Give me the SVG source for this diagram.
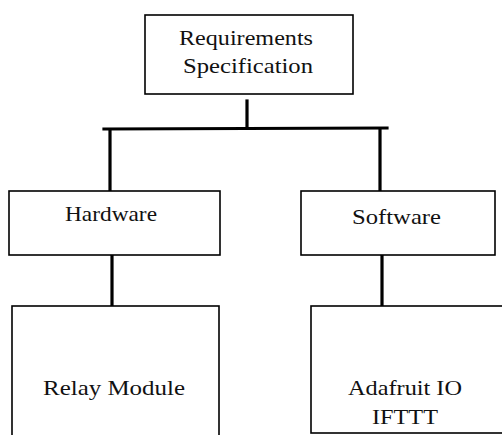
<svg xmlns="http://www.w3.org/2000/svg" width="502" height="435" viewBox="0 0 502 435">
<style>
.box{fill:#fff;stroke:#000;stroke-width:1.6}
.lbl{font-family:"Liberation Serif","Times New Roman",serif;font-size:22px;fill:#111;text-anchor:middle}
.con{stroke:#000;stroke-width:3.2;fill:none;stroke-linecap:square}
</style>
<rect width="502" height="435" fill="#fff"/>
<g id="connectors">
<line class="con" x1="247" y1="101" x2="247" y2="128"/>
<line class="con" x1="104" y1="129" x2="387" y2="128"/>
<line class="con" x1="110" y1="130" x2="110" y2="190"/>
<line class="con" x1="380" y1="130" x2="380" y2="190"/>
<line class="con" x1="112" y1="256" x2="112" y2="305"/>
<line class="con" x1="382" y1="256" x2="382" y2="305"/>
</g>
<g id="requirements">
<rect class="box" x="145" y="15" width="208" height="79"/>
<text class="lbl" x="246" y="45" textLength="134" lengthAdjust="spacingAndGlyphs">Requirements</text>
<text class="lbl" x="248" y="73" textLength="130" lengthAdjust="spacingAndGlyphs">Specification</text>
</g>
<g id="hardware">
<rect class="box" x="9" y="191" width="211" height="64"/>
<text class="lbl" x="111" y="221" textLength="92" lengthAdjust="spacingAndGlyphs">Hardware</text>
</g>
<g id="software">
<rect class="box" x="301" y="191" width="194" height="64"/>
<text class="lbl" x="396.5" y="224" textLength="89" lengthAdjust="spacingAndGlyphs">Software</text>
</g>
<g id="relay">
<rect class="box" x="12" y="306" width="207" height="140"/>
<text class="lbl" x="114" y="395" textLength="142" lengthAdjust="spacingAndGlyphs">Relay Module</text>
</g>
<g id="adafruit">
<rect class="box" x="311" y="306" width="200" height="127"/>
<text class="lbl" x="405" y="395" textLength="114" lengthAdjust="spacingAndGlyphs">Adafruit IO</text>
<text class="lbl" x="405" y="424" textLength="66" lengthAdjust="spacingAndGlyphs">IFTTT</text>
</g>
</svg>
